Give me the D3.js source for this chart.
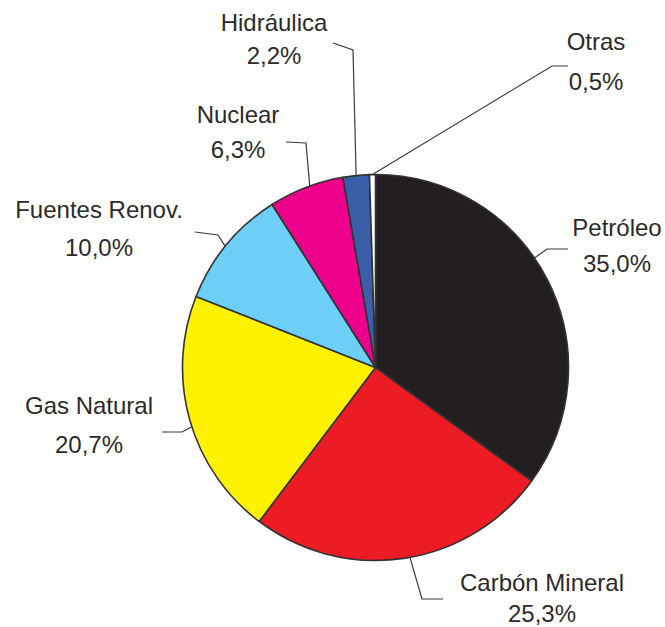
<!DOCTYPE html>
<html>
<head>
<meta charset="utf-8">
<script src="https://cdn.jsdelivr.net/npm/d3@7"></script>
<style>
  html, body { margin: 0; padding: 0; background: #ffffff; }
  svg { display: block; }
  text { font-family: "Liberation Sans", Arial, Helvetica, sans-serif; }
</style>
</head>
<body>
<svg id="chart" width="665" height="627"></svg>
<script>
// Energy sources, share of total (%)
const categories = ["Petróleo", "Carbón Mineral", "Gas Natural", "Fuentes Renov.", "Nuclear", "Hidráulica", "Otras"];
const shares = [35.0, 25.3, 20.7, 10.0, 6.3, 2.2, 0.5];
const colors = ["#231f20", "#ed1c24", "#fff200", "#6dcff6", "#ec008c", "#3a5ea8", "#ffffff"];

// Label placement: where the leader leaves the slice (fraction of its arc),
// the elbow and end of the leader, the text centre and the two baselines.
const labelLayout = [
  { t: 0.44, elbow: [547, 249], end: [568, 249], x: 617, y1: 236, y2: 272 },
  { t: 0.48, elbow: [422, 599], end: [443, 599], x: 542, y1: 591, y2: 622 },
  { t: 0.47, elbow: [182, 432], end: [162, 432], x: 89,  y1: 414, y2: 453 },
  { t: 0.48, elbow: [218, 235], end: [195, 232], x: 99,  y1: 218, y2: 256 },
  { t: 0.55, elbow: [306, 143], end: [286, 142], x: 238, y1: 123, y2: 158 },
  { t: 0.50, elbow: [353, 50],  end: [333, 43],  x: 274, y1: 31,  y2: 64 },
  { t: 0.50, elbow: [552, 66],  end: [568, 66],  x: 596, y1: 50,  y2: 90 }
];

const cx = 375.5, cy = 367.5, radius = 193;
const svg = d3.select("#chart");

const data = categories.map((name, i) => ({ name, value: shares[i], color: colors[i] }));

const pie = d3.pie().value(d => d.value).sort(null);
const arcs = pie(data);
const arc = d3.arc().innerRadius(0).outerRadius(radius);

const g = svg.append("g").attr("transform", `translate(${cx},${cy})`);

g.selectAll("path.slice")
  .data(arcs)
  .enter().append("path")
  .attr("class", "slice")
  .attr("d", arc)
  .attr("fill", d => d.data.color)
  .attr("stroke", "#333333")
  .attr("stroke-width", 1.6)
  .attr("stroke-linejoin", "round");

// Leader lines
const fmt = v => v.toFixed(1).replace(".", ",") + "%";

arcs.forEach((a, i) => {
  const L = labelLayout[i];
  const ang = a.startAngle + (a.endAngle - a.startAngle) * L.t;
  const sx = cx + radius * Math.sin(ang);
  const sy = cy - radius * Math.cos(ang);
  svg.append("polyline")
    .attr("points", [[sx, sy], L.elbow, L.end].map(p => p.join(",")).join(" "))
    .attr("fill", "none")
    .attr("stroke", "#3a3a3a")
    .attr("stroke-width", 1.2);

  const txt = svg.append("g").attr("fill", "#2b2b2b").attr("font-size", 24).attr("text-anchor", "middle");
  txt.append("text").attr("x", L.x).attr("y", L.y1).text(a.data.name);
  txt.append("text").attr("x", L.x).attr("y", L.y2).text(fmt(a.data.value));
});
</script>
</body>
</html>
